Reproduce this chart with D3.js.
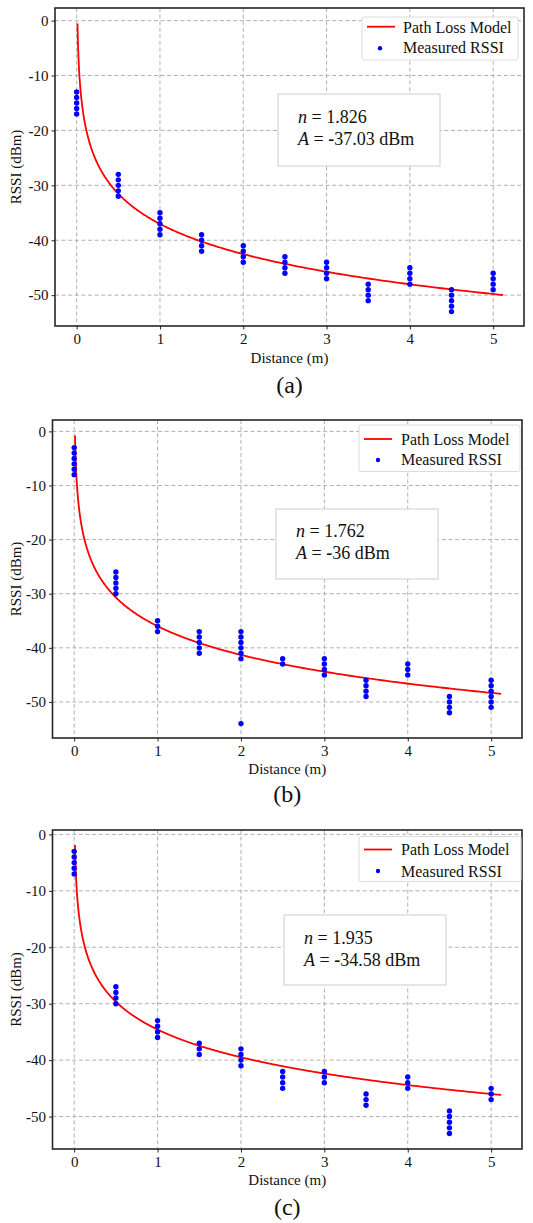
<!DOCTYPE html>
<html><head><meta charset="utf-8">
<script src="https://cdn.jsdelivr.net/npm/d3@7"></script>
<style>
body{margin:0;background:#fff}svg{display:block}
svg text{font-family:'Liberation Serif','Times New Roman',serif !important}
</style>
</head><body>
<svg id="chart" width="533" height="1223"></svg>
<script>
// ---------- data ----------
const distances = [0, 0.5, 1, 1.5, 2, 2.5, 3, 3.5, 4, 4.5, 5];
const rssiA = [
  [-13,-14,-15,-16,-17],
  [-28,-29,-30,-31,-32],
  [-35,-36,-37,-38,-39],
  [-39,-40,-41,-42],
  [-41,-42,-43,-44],
  [-43,-44,-45,-46],
  [-44,-45,-46,-47],
  [-48,-49,-50,-51],
  [-45,-46,-47,-48],
  [-49,-50,-51,-52,-53],
  [-46,-47,-48,-49]
];
const rssiB = [
  [-3,-4,-5,-6,-7,-8],
  [-26,-27,-28,-29,-30],
  [-35,-36,-37],
  [-37,-38,-39,-40,-41],
  [-37,-38,-39,-40,-41,-42,-54],
  [-42,-43],
  [-42,-43,-44,-45],
  [-46,-47,-48,-49],
  [-43,-44,-45],
  [-49,-50,-51,-52],
  [-46,-47,-48,-49,-50,-51]
];
const rssiC = [
  [-3,-4,-5,-6,-7],
  [-27,-28,-29,-30],
  [-33,-34,-35,-36],
  [-37,-38,-39],
  [-38,-39,-40,-41],
  [-42,-43,-44,-45],
  [-42,-43,-44],
  [-46,-47,-48],
  [-43,-44,-45],
  [-49,-50,-51,-52,-53],
  [-45,-46,-47]
];
const xTicks = [0, 1, 2, 3, 4, 5];
const yTicks = [0, -10, -20, -30, -40, -50];
const legendLabels = ["Path Loss Model", "Measured RSSI"];
const panelLabels = ["(a)", "(b)", "(c)"];
const modelNText = ["1.826", "1.762", "1.935"];
const modelAText = ["-37.03", "-36", "-34.58"];
// path-loss curve parameters as drawn in each panel
const curveN = [1.826, 1.762, 1.635];
const curveA = [-37.03, -36, -34.58];
const curveStart = 0.01;
const curveEnd = 5.12;
const xLabel = "Distance (m)";
const yLabel = "RSSI (dBm)";

// ---------- layout ----------
const layouts = [
  {l:55, r:524, t:8, b:326, yd:[-55.62, 2.3], xd:[-0.26, 5.37],
   leg:{x0:362, x1:518, y0:17, y1:60, line:26.7, b1:32.7, b2:53.3, dot:48.3, lx0:367, lx1:395, tx:403, dx:380},
   box:{x0:278, x1:440, y0:94, y1:166, tx:298, b1:123, b2:145},
   xl:363, pl:393},
  {l:52.5, r:522, t:420, b:738, yd:[-56.66, 2.1], xd:[-0.26, 5.37],
   leg:{x0:359, x1:520, y0:425, y1:471.5, line:439, b1:444.5, b2:465, dot:460, lx0:364, lx1:392, tx:401, dx:378},
   box:{x0:276, x1:438, y0:509, y1:579, tx:296, b1:537, b2:558.5},
   xl:774, pl:802},
  {l:52.5, r:522, t:830, b:1149, yd:[-55.75, 0.78], xd:[-0.26, 5.37],
   leg:{x0:359, x1:521, y0:836.5, y1:881.5, line:849.5, b1:855, b2:876.5, dot:871, lx0:364, lx1:392, tx:401, dx:378},
   box:{x0:284, x1:446, y0:915, y1:985, tx:304, b1:944, b2:965.5},
   xl:1185, pl:1215}
];
const datasets = [rssiA, rssiB, rssiC];
const serif = "'Liberation Serif','Times New Roman',serif";

const svg = d3.select("#chart");

function minusText(sel, str) {
  sel.text(null);
  if (str.startsWith("-")) {
    sel.append("tspan").attr("font-weight", "bold").text("-");
    sel.append("tspan").text(str.slice(1));
  } else sel.append("tspan").text(str);
}

layouts.forEach((L, i) => {
  const g = svg.append("g");
  const x = d3.scaleLinear().domain(L.xd).range([L.l, L.r]);
  const y = d3.scaleLinear().domain(L.yd).range([L.b, L.t]);
  const clipId = "clip" + i;
  svg.append("clipPath").attr("id", clipId).append("rect")
    .attr("x", L.l).attr("y", L.t).attr("width", L.r - L.l).attr("height", L.b - L.t);

  // grid
  g.append("g").selectAll("line").data(xTicks).join("line")
    .attr("x1", d => x(d)).attr("x2", d => x(d)).attr("y1", L.t).attr("y2", L.b)
    .attr("stroke", "#b0b0b0").attr("stroke-width", 1).attr("stroke-dasharray", "4,2.6");
  g.append("g").selectAll("line").data(yTicks).join("line")
    .attr("y1", d => y(d)).attr("y2", d => y(d)).attr("x1", L.l).attr("x2", L.r)
    .attr("stroke", "#b0b0b0").attr("stroke-width", 1).attr("stroke-dasharray", "4,2.6");

  // model curve
  const n = curveN[i], A = curveA[i];
  const lo = Math.log10(curveStart), hi = Math.log10(curveEnd);
  const ds = d3.range(0, 401).map(k => Math.pow(10, lo + (hi - lo) * k / 400));
  const line = d3.line().x(d => x(d)).y(d => y(A - 10 * n * Math.log10(d)));
  g.append("path").datum(ds).attr("d", line).attr("fill", "none")
    .attr("stroke", "#ff0000").attr("stroke-width", 1.8).attr("clip-path", `url(#${clipId})`);

  // points
  const pts = [];
  datasets[i].forEach((vals, j) => vals.forEach(v => pts.push([distances[j], v])));
  g.append("g").selectAll("circle").data(pts).join("circle")
    .attr("cx", d => x(d[0])).attr("cy", d => y(d[1])).attr("r", 2.7).attr("fill", "#0000ff");

  // spines
  g.append("rect").attr("x", L.l).attr("y", L.t).attr("width", L.r - L.l).attr("height", L.b - L.t)
    .attr("fill", "none").attr("stroke", "#262626").attr("stroke-width", 1.6);

  // x axis ticks
  const xa = g.append("g").attr("transform", `translate(0,${L.b})`)
    .call(d3.axisBottom(x).tickValues(xTicks).tickSize(3.5).tickPadding(4).tickFormat(d3.format("d")));
  xa.attr("font-family", serif);
  xa.select(".domain").remove();
  xa.selectAll("line").attr("stroke", "#262626");
  xa.selectAll("text").attr("font-size", 15).attr("fill", "#111");

  const ya = g.append("g").attr("transform", `translate(${L.l},0)`)
    .call(d3.axisLeft(y).tickValues(yTicks).tickSize(3.5).tickPadding(3).tickFormat(d3.format("d")));
  ya.attr("font-family", serif);
  ya.select(".domain").remove();
  ya.selectAll("line").attr("stroke", "#262626");
  ya.selectAll("text").attr("font-size", 15).attr("fill", "#111")
    .each(function(d) { minusText(d3.select(this), String(d)); });

  // axis labels
  g.append("text").attr("x", (L.l + L.r) / 2).attr("y", L.xl).attr("text-anchor", "middle")
    .attr("font-size", 15).attr("fill", "#111").text(xLabel);
  g.append("text").attr("transform", `translate(21,${(L.t + L.b) / 2}) rotate(-90)`)
    .attr("text-anchor", "middle").attr("font-size", 15).attr("fill", "#111").text(yLabel);
  g.append("text").attr("x", (L.l + L.r) / 2).attr("y", L.pl).attr("text-anchor", "middle")
    .attr("font-size", 24).attr("fill", "#111").text(panelLabels[i]);

  // legend
  const lg = L.leg;
  g.append("rect").attr("x", lg.x0).attr("y", lg.y0).attr("width", lg.x1 - lg.x0).attr("height", lg.y1 - lg.y0)
    .attr("rx", 2).attr("fill", "#fff").attr("fill-opacity", 0.92).attr("stroke", "#dcdcdc").attr("stroke-width", 1);
  g.append("line").attr("x1", lg.lx0).attr("x2", lg.lx1).attr("y1", lg.line).attr("y2", lg.line)
    .attr("stroke", "#ff0000").attr("stroke-width", 1.8);
  g.append("circle").attr("cx", lg.dx).attr("cy", lg.dot).attr("r", 2.2).attr("fill", "#0000ff");
  g.append("text").attr("x", lg.tx).attr("y", lg.b1).attr("font-size", 16)
    .attr("fill", "#111").text(legendLabels[0]);
  g.append("text").attr("x", lg.tx).attr("y", lg.b2).attr("font-size", 16)
    .attr("fill", "#111").text(legendLabels[1]);

  // annotation box
  const bx = L.box;
  g.append("rect").attr("x", bx.x0).attr("y", bx.y0).attr("width", bx.x1 - bx.x0).attr("height", bx.y1 - bx.y0)
    .attr("fill", "#fff").attr("stroke", "#d6d6d6").attr("stroke-width", 1.2);
  const t1 = g.append("text").attr("x", bx.tx).attr("y", bx.b1).attr("font-size", 18).attr("fill", "#111");
  t1.append("tspan").attr("font-style", "italic").text("n");
  t1.append("tspan").text(" = " + modelNText[i]);
  const t2 = g.append("text").attr("x", bx.tx).attr("y", bx.b2).attr("font-size", 18).attr("fill", "#111");
  t2.append("tspan").attr("font-style", "italic").text("A");
  t2.append("tspan").text(" = ");
  t2.append("tspan").attr("font-weight", "bold").text("-");
  t2.append("tspan").text(modelAText[i].slice(1) + " dBm");
});
</script>
</body></html>
